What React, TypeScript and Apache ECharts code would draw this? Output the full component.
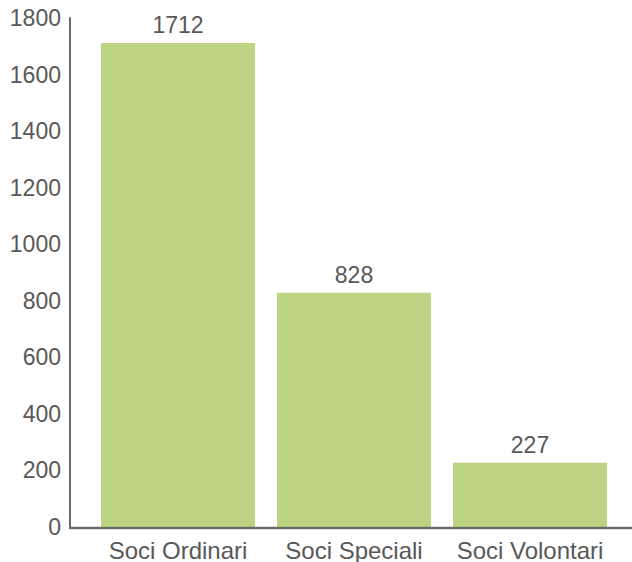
import React, { useEffect, useRef } from "react";
import * as echarts from "echarts";

const categories = ["Soci Ordinari", "Soci Speciali", "Soci Volontari"];
const values = [1712, 828, 227];
const yMin = 0;
const yMax = 1800;
const yInterval = 200;

export default function App() {
  const ref = useRef<HTMLDivElement>(null);
  useEffect(() => {
    document.body.style.margin = "0";
    if (!ref.current) return;
    const chart = echarts.init(ref.current, null, { renderer: "svg" });
    const font = "'Liberation Sans', Arial, Helvetica, sans-serif";
    const textColor = "#585858";
    const axisColor = "#6b6b6b";
    chart.setOption({
      animation: false,
      grid: { left: 90, right: 14, top: 18, bottom: 34, containLabel: false },
      xAxis: {
        type: "category",
        data: categories,
        axisLine: { show: false },
        axisTick: { show: false },
        axisLabel: {
          color: textColor,
          fontSize: 24,
          fontFamily: font,
          margin: 11,
          interval: 0,
        },
      },
      yAxis: {
        type: "value",
        min: yMin,
        max: yMax,
        interval: yInterval,
        offset: 20,
        splitLine: { show: false },
        axisLine: { show: true, lineStyle: { color: axisColor, width: 2 } },
        axisTick: { show: false },
        axisLabel: {
          color: textColor,
          fontSize: 23,
          fontFamily: font,
          margin: 9,
          padding: [7, 0, 0, 0],
          formatter: (v: number) => String(v),
        },
      },
      graphic: [
        {
          type: "line",
          shape: { x1: 69, y1: 528, x2: 632, y2: 528 },
          style: { stroke: axisColor, lineWidth: 2.5 },
          z: 10,
        },
      ],
      series: [
        {
          type: "bar",
          data: values,
          barWidth: 154,
          itemStyle: { color: "#bdd582" },
          label: {
            show: true,
            position: "top",
            distance: 6,
            color: textColor,
            fontSize: 23,
            fontFamily: font,
          },
        },
      ],
    });
    return () => chart.dispose();
  }, []);
  return <div ref={ref} style={{ width: 632, height: 562 }} />;
}
